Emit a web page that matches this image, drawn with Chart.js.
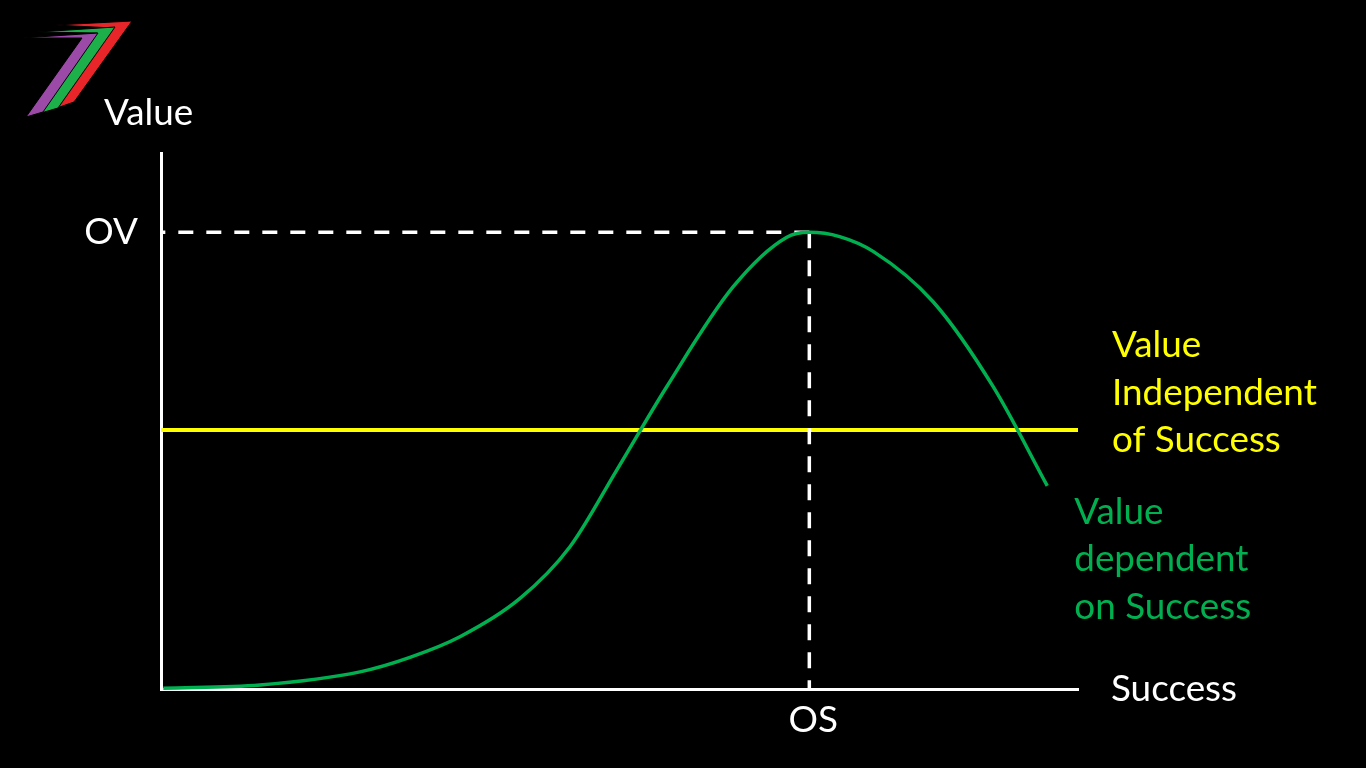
<!DOCTYPE html>
<html><head><meta charset="utf-8">
<script src="https://cdn.jsdelivr.net/npm/chart.js@4.4.1/dist/chart.umd.min.js"></script>
<style>html,body{margin:0;padding:0;background:#000;overflow:hidden}#wrap{width:1366px;height:768px}</style>
</head><body><div id="wrap"><canvas id="c" width="1366" height="768"></canvas></div>
<script>
// ---- data ----
const successValues   = [0.25, 10.8, 21.7, 27.15, 32.6, 39.15, 44.6, 49.7, 55.15, 62.4, 68.2, 70.7, 74.0, 77.7, 84.2, 90.75, 96.65];
const dependentValues = [0.13, 0.75, 3.2, 5.9, 9.75, 16.9, 26.55, 40.85, 56.4, 75.05, 84.25, 85.2, 84.4, 81.6, 72.25, 56.4, 37.9];
const optimumSuccess = 70.7;
const optimumValue = 85.2;
const independentValue = 48.3;
const successRange = [0, 100];
const valueRange = [0, 100];
const xAxisTitle = 'Success';
const yAxisTitle = 'Value';
const osLabel = 'OS';
const ovLabel = 'OV';
const independentLabel = ['Value', 'Independent', 'of Success'];
const dependentLabel = ['Value', 'dependent', 'on Success'];

const GREEN = '#00B050', YELLOW = '#FFFF00', WHITE = '#FFFFFF';
const FONT_FAMILY = 'Lato, "Open Sans", sans-serif';

const bgPlugin = {
  id: 'bg',
  beforeDraw(chart) {
    const ctx = chart.ctx;
    ctx.save(); ctx.fillStyle = '#000'; ctx.fillRect(0, 0, chart.width, chart.height); ctx.restore();
  }
};

// decorative "7" logo in the corner
const logoPlugin = {
  id: 'logo',
  afterDraw(chart) {
    const ctx = chart.ctx;
    const stripes = [
      ['#E8262A', [[55,25],[132,21],[74,102],[57,108],[113,28]]],
      ['#1DB04A', [[38,32],[115,27],[58,108],[41,113],[97,33]]],
      ['#9B4AA8', [[22,38],[98,33],[43,112],[26,117],[82,38]]]
    ];
    ctx.save();
    ctx.lineJoin = 'miter';
    stripes.forEach(([col, pts]) => {
      ctx.beginPath();
      pts.forEach(([px, py], i) => i ? ctx.lineTo(px, py) : ctx.moveTo(px, py));
      ctx.closePath();
      ctx.fillStyle = col; ctx.fill();
      ctx.strokeStyle = '#000'; ctx.lineWidth = 1; ctx.stroke();
    });
    ctx.restore();
  }
};

const textPlugin = {
  id: 'texts',
  afterDraw(chart) {
    const ctx = chart.ctx, xs = chart.scales.x, ys = chart.scales.y;
    ctx.save();
    ctx.font = '40px ' + FONT_FAMILY;
    const fs = 40 * 205 / ctx.measureText('Independent').width;
    ctx.font = fs.toFixed(2) + 'px ' + FONT_FAMILY;
    ctx.textBaseline = 'alphabetic';
    const left = xs.left, right = xs.right, top = ys.top, bottom = ys.bottom;
    ctx.fillStyle = WHITE;
    ctx.textAlign = 'left';
    ctx.fillText(yAxisTitle, left - 57, top - 28);
    ctx.fillText(xAxisTitle, right + 33, bottom + 12);
    ctx.textAlign = 'right';
    ctx.fillText(ovLabel, left - 23, ys.getPixelForValue(optimumValue) + 12);
    ctx.textAlign = 'center';
    ctx.fillText(osLabel, xs.getPixelForValue(optimumSuccess) + 4, bottom + 43);
    ctx.textAlign = 'left';
    ctx.fillStyle = YELLOW;
    const yy = ys.getPixelForValue(independentValue);
    independentLabel.forEach((t, i) => ctx.fillText(t, right + 34, yy - 73 + i * 47.5));
    ctx.fillStyle = GREEN;
    const n = successValues.length - 1;
    const gx = xs.getPixelForValue(successValues[n]), gy = ys.getPixelForValue(dependentValues[n]);
    dependentLabel.forEach((t, i) => ctx.fillText(t, gx + 27, gy + 38 + i * 47.5));
    ctx.restore();
  }
};

new Chart(document.getElementById('c'), {
  type: 'line',
  data: {
    datasets: [
      {
        data: successValues.map((x, i) => ({x, y: dependentValues[i]})),
        borderColor: GREEN, borderWidth: 3.5, pointRadius: 0,
        cubicInterpolationMode: 'monotone', fill: false, clip: false
      },
      {
        data: [{x: optimumSuccess, y: optimumValue}, {x: successRange[0], y: optimumValue}],
        borderColor: WHITE, borderWidth: 3.5, borderDash: [15, 13], pointRadius: 0, tension: 0, clip: false
      },
      {
        data: [{x: optimumSuccess, y: optimumValue}, {x: optimumSuccess, y: valueRange[0]}],
        borderColor: WHITE, borderWidth: 3.5, borderDash: [16, 12], pointRadius: 0, tension: 0, clip: false
      },
      {
        data: [{x: successRange[0], y: independentValue}, {x: successRange[1], y: independentValue}],
        borderColor: YELLOW, borderWidth: 4, pointRadius: 0, tension: 0, clip: false
      }
    ]
  },
  options: {
    responsive: false,
    animation: false,
    devicePixelRatio: 1,
    layout: {padding: {left: 161, right: 288, top: 153, bottom: 79}},
    plugins: {legend: {display: false}, tooltip: {enabled: false}},
    events: [],
    scales: {
      x: {
        type: 'linear', min: successRange[0], max: successRange[1],
        ticks: {display: false}, grid: {display: false, drawTicks: false},
        border: {display: true, color: WHITE, width: 3},
        afterFit(s) { s.height = 0; }
      },
      y: {
        type: 'linear', min: valueRange[0], max: valueRange[1],
        ticks: {display: false}, grid: {display: false, drawTicks: false},
        border: {display: true, color: WHITE, width: 3},
        afterFit(s) { s.width = 0; }
      }
    }
  },
  plugins: [bgPlugin, logoPlugin, textPlugin]
});
</script>
</body></html>
